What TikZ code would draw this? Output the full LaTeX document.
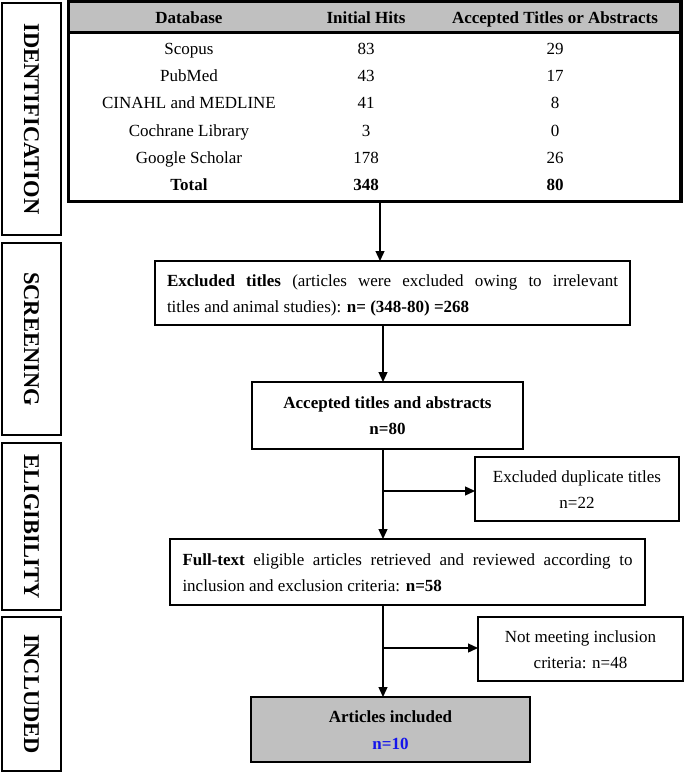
\documentclass[tikz,border=0pt]{standalone}
\usepackage{fontspec}
\setmainfont{Liberation Serif}
\usetikzlibrary{arrows.meta}
\definecolor{hdrgray}{RGB}{192,192,192}
\definecolor{nblue}{RGB}{20,20,235}
\newcommand\stf{\rule[-4pt]{0pt}{20pt}}
\begin{document}
\begin{tikzpicture}[x=1pt,y=-1pt,
  every node/.style={inner sep=0pt, outer sep=0pt},
  side/.style={draw, line width=2.2pt, rotate=-90, minimum height=59pt, font=\fontsize{22.5}{27}\selectfont\bfseries},
  flowbox/.style={draw, line width=1.3pt, font=\fontsize{17}{26}\selectfont},
  cell/.style={anchor=base, font=\fontsize{17}{20}\selectfont},
  hcell/.style={anchor=base, font=\fontsize{17}{20}\selectfont\bfseries},
  arr/.style={line width=1.3pt, -{Triangle[length=10pt,width=9pt]}},
]
\useasboundingbox (0,0) rectangle (685,773);

% side labels
\node[side, minimum width=232pt] (sid) at (31.5,119) {IDENTIFICATION};
\node[side, minimum width=192pt] (sscr) at (31.5,339) {SCREENING};
\node[side, minimum width=167pt] (selig) at (31.5,526.5) {ELIGIBILITY};
\node[side, minimum width=154pt] (sinc) at (31.5,694) {INCLUDED};

% table
\fill[hdrgray] (68.7,1.5) rectangle (681,32.7);
\draw[line width=2.5pt] (68.7,32.7) -- (681,32.7);
\node[draw, line width=3.5pt, minimum width=612.3pt, minimum height=200pt] (tab) at (374.85,101.5) {};

\node[hcell] (h1) at (189,24) {Database};
\node[hcell] (h2) at (366,24) {Initial Hits};
\node[hcell] (h3) at (555,24) {Accepted Titles or Abstracts};

\node[cell] (r1a) at (189,55) {Scopus};
\node[cell] (r1b) at (366,55) {83};
\node[cell] (r1c) at (555,55) {29};
\node[cell] (r2a) at (189,82) {PubMed};
\node[cell] (r2b) at (366,82) {43};
\node[cell] (r2c) at (555,82) {17};
\node[cell] (r3a) at (189,109) {CINAHL and MEDLINE};
\node[cell] (r3b) at (366,109) {41};
\node[cell] (r3c) at (555,109) {8};
\node[cell] (r4a) at (189,136) {Cochrane Library};
\node[cell] (r4b) at (366,136) {3};
\node[cell] (r4c) at (555,136) {0};
\node[cell] (r5a) at (189,163) {Google Scholar};
\node[cell] (r5b) at (366,163) {178};
\node[cell] (r5c) at (555,163) {26};
\node[hcell] (r6a) at (189,190) {Total};
\node[hcell] (r6b) at (366,190) {348};
\node[hcell] (r6c) at (555,190) {80};

% flow boxes
\node[flowbox, minimum width=475pt, minimum height=64pt, text width=451pt, align=justify] (exc) at (392.5,293)
  {\tolerance=10000 \stf\textbf{Excluded titles} (articles were excluded owing to irrelevant\linebreak titles and animal studies): \textbf{n= (348-80) =268}\stf};
\node[flowbox, minimum width=271pt, minimum height=67pt, align=center, font=\fontsize{17}{26}\selectfont\bfseries] (acc) at (387.5,415.5)
  {\stf Accepted titles and abstracts\\n=80\stf};
\node[flowbox, minimum width=204pt, minimum height=64pt, align=center] (dup) at (577,489)
  {\stf Excluded duplicate titles\\n=22\stf};
\node[flowbox, minimum width=475pt, minimum height=66pt, text width=450pt, align=justify] (ful) at (407.5,572)
  {\tolerance=10000 \stf\textbf{Full-text} eligible articles retrieved and reviewed according to\linebreak inclusion and exclusion criteria: \textbf{n=58}\stf};
\node[flowbox, minimum width=205pt, minimum height=64pt, align=center] (nm) at (580.5,649)
  {\stf Not meeting inclusion\\criteria: n=48\stf};
\node[flowbox, fill=hdrgray, minimum width=279pt, minimum height=65pt, align=center, font=\fontsize{17}{27}\selectfont\bfseries] (art) at (390.5,729.5)
  {\stf Articles included\\\textcolor{nblue}{n=10}\stf};

% connectors
\coordinate (v1) at (380,0);
\coordinate (v2) at (383,0);
\coordinate (b1) at (383,491);
\coordinate (b2) at (383,648);
\draw[arr] (tab.south -| v1) -- (exc.north -| v1);
\draw[arr] (exc.south -| v2) -- (acc.north -| v2);
\draw[arr] (acc.south -| v2) -- (ful.north -| v2);
\draw[arr] (b1) -- (b1 -| dup.west);
\draw[arr] (ful.south -| v2) -- (art.north -| v2);
\draw[arr] (b2) -- (b2 -| nm.west);
\end{tikzpicture}
\end{document}
